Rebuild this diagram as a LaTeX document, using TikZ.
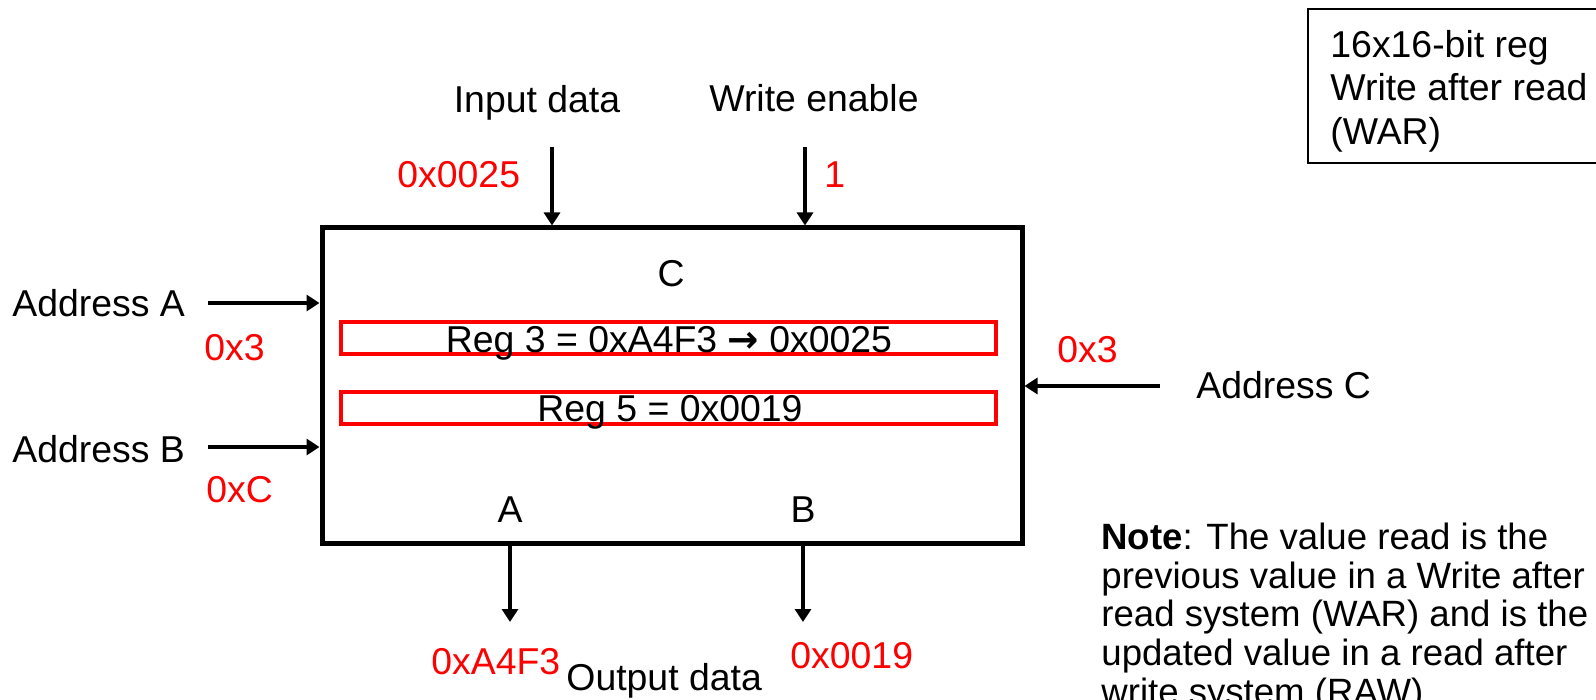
\documentclass[tikz,border=0pt]{standalone}
\usepackage{fontspec}
\setmainfont{Liberation Sans}
\newfontfamily\symfont{DejaVu Sans}
\usetikzlibrary{arrows.meta}
\begin{document}
\begin{tikzpicture}[x=0.5pt,y=-0.5pt,
  lbl/.style={inner sep=0pt, anchor=base west, font=\fontsize{18.7}{20}\selectfont},
  clbl/.style={inner sep=0pt, anchor=base, font=\fontsize{18.7}{20}\selectfont},
  notelbl/.style={inner sep=0pt, anchor=base west, font=\fontsize{18.3}{20}\selectfont},
  val/.style={lbl, text=red},
  arr/.style={line width=1.6pt, -{Triangle[length=6.5pt,width=8pt]}},
  regbox/.style={draw=red, line width=1.75pt, minimum width=327.5pt, minimum height=16pt, inner sep=0pt},
]
\useasboundingbox (0,0) rectangle (1596,700);
\clip (0,0) rectangle (1596,700);

% main register file box
\node[draw, line width=2.5pt, minimum width=350pt, minimum height=157.5pt, inner sep=0pt] (rf) at (672,385.5) {};
\node[regbox] (r3) at (668.5,338) {};
\node[regbox] (r5) at (668.5,408) {};
\node[clbl] (c) at (671,287) {C};
\node[clbl] (t3) at (669,352) {Reg 3 = 0xA4F3 {\symfont\bfseries →} 0x0025};
\node[clbl] (t5) at (670,421) {Reg 5 = 0x0019};
\node[clbl] (pa) at (510,522) {A};
\node[clbl] (pb) at (803,522) {B};

% inputs on top
\coordinate (ind) at (552,147);
\coordinate (wen) at (805,147);
\draw[arr] (ind) -- (ind |- rf.north);
\draw[arr] (wen) -- (wen |- rf.north);
\node[clbl] (indl) at (537,113) {Input data};
\node[clbl] (wenl) at (814,112) {Write enable};
\node[val] (v25) at (397,188) {0x0025};
\node[val] (v1) at (824,188) {1};

% address A, B
\coordinate (aa) at (208,303);
\coordinate (ab) at (208,447);
\draw[arr] (aa) -- (aa -| rf.west);
\draw[arr] (ab) -- (ab -| rf.west);
\node[lbl] (aal) at (12,317) {Address A};
\node[lbl] (abl) at (12,462) {Address B};
\node[val] (va) at (204,360) {0x3};
\node[val] (vb) at (206,502) {0xC};

% address C
\coordinate (ac) at (1160,386);
\draw[arr] (ac) -- (ac -| rf.east);
\node[val] (vc) at (1057,363) {0x3};
\node[lbl] (acl) at (1196,398) {Address C};

% outputs
\coordinate (oa) at (510,622);
\coordinate (ob) at (803,622);
\draw[arr] (oa |- rf.south) -- (oa);
\draw[arr] (ob |- rf.south) -- (ob);
\node[val] (voa) at (431,674) {0xA4F3};
\node[lbl] (odl) at (566,690) {Output data};
\node[val] (vob) at (790,668) {0x0019};

% info box
\draw[line width=0.75pt] (1308,9) rectangle (1640,163);
\node[lbl] (i1) at (1330,58) {16x16-bit reg};
\node[lbl] (i2) at (1330,101) {Write after read};
\node[lbl] (i3) at (1330,145) {(WAR)};

% note
\node[notelbl] (n1) at (1101,549) {\textbf{Note}: The value read is the};
\node[notelbl] (n2) at (1101,588) {previous value in a Write after};
\node[notelbl] (n3) at (1101,626) {read system (WAR) and is the};
\node[notelbl] (n4) at (1101,665) {updated value in a read after};
\node[notelbl] (n5) at (1101,704) {write system (RAW).};
\end{tikzpicture}
\end{document}
